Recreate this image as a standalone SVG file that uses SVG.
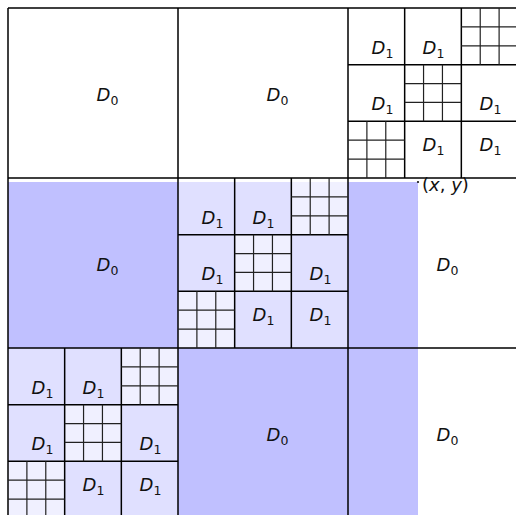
<svg xmlns="http://www.w3.org/2000/svg" xmlns:xlink="http://www.w3.org/1999/xlink" width="516" height="515" viewBox="0 0 516 515">
<style>
.ln{stroke:#000;stroke-width:1.5;fill:none}
.fn{stroke:#222;stroke-width:1.2;fill:none}
.lab{font-family:"DejaVu Sans","Liberation Sans",sans-serif;font-size:18px;font-style:italic;fill:#111}
.sub{font-size:12.5px;font-style:normal}
.up{font-style:normal}
.d0{fill:#c0c0ff}
.d1{fill:#e0e0ff}
.d2{fill:#f0f0ff}
</style>
<defs>
<clipPath id="shade"><rect x="8" y="182" width="410" height="340"/></clipPath>
<g id="subfill">
<rect class="d1" x="0" y="0" width="170" height="170"/>
<rect class="d2" x="113.333" y="0" width="56.667" height="56.667"/>
<rect class="d2" x="56.667" y="56.667" width="56.667" height="56.667"/>
<rect class="d2" x="0" y="113.333" width="56.667" height="56.667"/>
</g>
<g id="sublines">
<path class="ln" d="M56.667 0V170M113.333 0V170M0 56.667H170M0 113.333H170"/>
<path class="fn" d="M132.222 0V56.667M151.111 0V56.667M113.333 18.889H170M113.333 37.778H170M75.556 56.667V113.333M94.444 56.667V113.333M56.667 75.556H113.333M56.667 94.444H113.333M18.889 113.333V170M37.778 113.333V170M0 132.222H56.667M0 151.111H56.667"/>
</g>
<g id="sublabels">
<text class="lab" x="23.5" y="46">D<tspan class="sub" dy="4">1</tspan></text>
<text class="lab" x="74.5" y="46">D<tspan class="sub" dy="4">1</tspan></text>
<text class="lab" x="23.5" y="102">D<tspan class="sub" dy="4">1</tspan></text>
<text class="lab" x="131.5" y="102">D<tspan class="sub" dy="4">1</tspan></text>
<text class="lab" x="74.5" y="143">D<tspan class="sub" dy="4">1</tspan></text>
<text class="lab" x="131.5" y="143">D<tspan class="sub" dy="4">1</tspan></text>
</g>
</defs>
<rect x="0" y="0" width="516" height="515" fill="#fff"/>
<g id="shading" clip-path="url(#shade)">
<rect class="d0" x="8" y="182" width="410" height="340"/>
<use xlink:href="#subfill" transform="translate(178,178)"/>
<use xlink:href="#subfill" transform="translate(8,348)"/>
</g>
<g id="connectors">
<path class="ln" d="M8 8V515M178 8V515M348 8V515M8 8H516M8 178H516M8 348H516"/>
</g>
<g id="D0-a"><text class="lab" x="96.5" y="101">D<tspan class="sub" dy="4">0</tspan></text></g>
<g id="D0-b"><text class="lab" x="266.5" y="101">D<tspan class="sub" dy="4">0</tspan></text></g>
<g id="D0-c"><text class="lab" x="96.5" y="271">D<tspan class="sub" dy="4">0</tspan></text></g>
<g id="D0-d"><text class="lab" x="436.5" y="271">D<tspan class="sub" dy="4">0</tspan></text></g>
<g id="D0-e"><text class="lab" x="266.5" y="441">D<tspan class="sub" dy="4">0</tspan></text></g>
<g id="D0-f"><text class="lab" x="436.5" y="441">D<tspan class="sub" dy="4">0</tspan></text></g>
<g id="sub-tr" transform="translate(348,8)">
<use xlink:href="#sublines"/>
<use xlink:href="#sublabels"/>
</g>
<g id="sub-mid" transform="translate(178,178)">
<use xlink:href="#sublines"/>
<use xlink:href="#sublabels"/>
</g>
<g id="sub-bl" transform="translate(8,348)">
<use xlink:href="#sublines"/>
<use xlink:href="#sublabels"/>
</g>
<g id="point">
<circle cx="418" cy="182" r="1.1" fill="#111"/>
<text class="lab" x="422" y="191"><tspan class="up">(</tspan>x<tspan class="up">, </tspan>y<tspan class="up">)</tspan></text>
</g>
</svg>
